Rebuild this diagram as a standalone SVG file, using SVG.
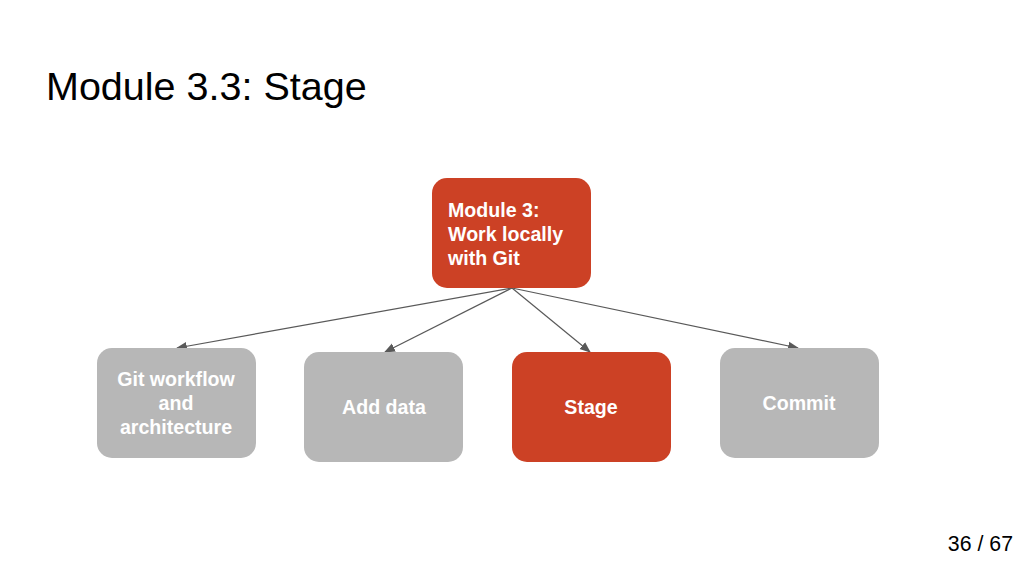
<svg xmlns="http://www.w3.org/2000/svg" width="1024" height="576" viewBox="0 0 1024 576">
<style>
.red{fill:#CC4125}
.gray{fill:#B7B7B7}
.lbl{font-family:"Liberation Sans",Arial,sans-serif;font-weight:bold;font-size:19.6px;fill:#ffffff}
.c{text-anchor:middle}
.edge{stroke:#595959;stroke-width:1.2;fill:none;marker-end:url(#ah)}
</style>
<defs>
<marker id="ah" viewBox="0 0 10 10" refX="9" refY="5" markerWidth="11" markerHeight="11" markerUnits="userSpaceOnUse" orient="auto">
<path d="M0,1 L10,5 L0,9 z" fill="#595959"/>
</marker>
</defs>
<rect width="1024" height="576" fill="#ffffff"/>
<text x="46" y="100" font-family="'Liberation Sans',Arial,sans-serif" font-size="39.5" fill="#000">Module 3.3: Stage</text>
<text x="1013" y="551" text-anchor="end" font-family="'Liberation Sans',Arial,sans-serif" font-size="21.3" fill="#000">36 / 67</text>
<g id="connectors">
<line class="edge" x1="512" y1="288" x2="177" y2="348"/>
<line class="edge" x1="512" y1="288" x2="385" y2="352"/>
<line class="edge" x1="512" y1="288" x2="590" y2="352"/>
<line class="edge" x1="512" y1="288" x2="798" y2="348"/>
</g>
<g id="module3">
<rect class="red" x="432" y="178" width="159" height="110" rx="15"/>
<text class="lbl" x="448" y="217">Module 3:</text>
<text class="lbl" x="448" y="241">Work locally</text>
<text class="lbl" x="448" y="265">with Git</text>
</g>
<g id="gitworkflow">
<rect class="gray" x="97" y="348" width="159" height="110" rx="15"/>
<text class="lbl c" x="176" y="386">Git workflow</text>
<text class="lbl c" x="176" y="410">and</text>
<text class="lbl c" x="176" y="434">architecture</text>
</g>
<g id="adddata">
<rect class="gray" x="304" y="352" width="159" height="110" rx="15"/>
<text class="lbl c" x="384" y="414">Add data</text>
</g>
<g id="stage">
<rect class="red" x="512" y="352" width="159" height="110" rx="15"/>
<text class="lbl c" x="591" y="414">Stage</text>
</g>
<g id="commit">
<rect class="gray" x="720" y="348" width="159" height="110" rx="15"/>
<text class="lbl c" x="799" y="410">Commit</text>
</g>
</svg>
